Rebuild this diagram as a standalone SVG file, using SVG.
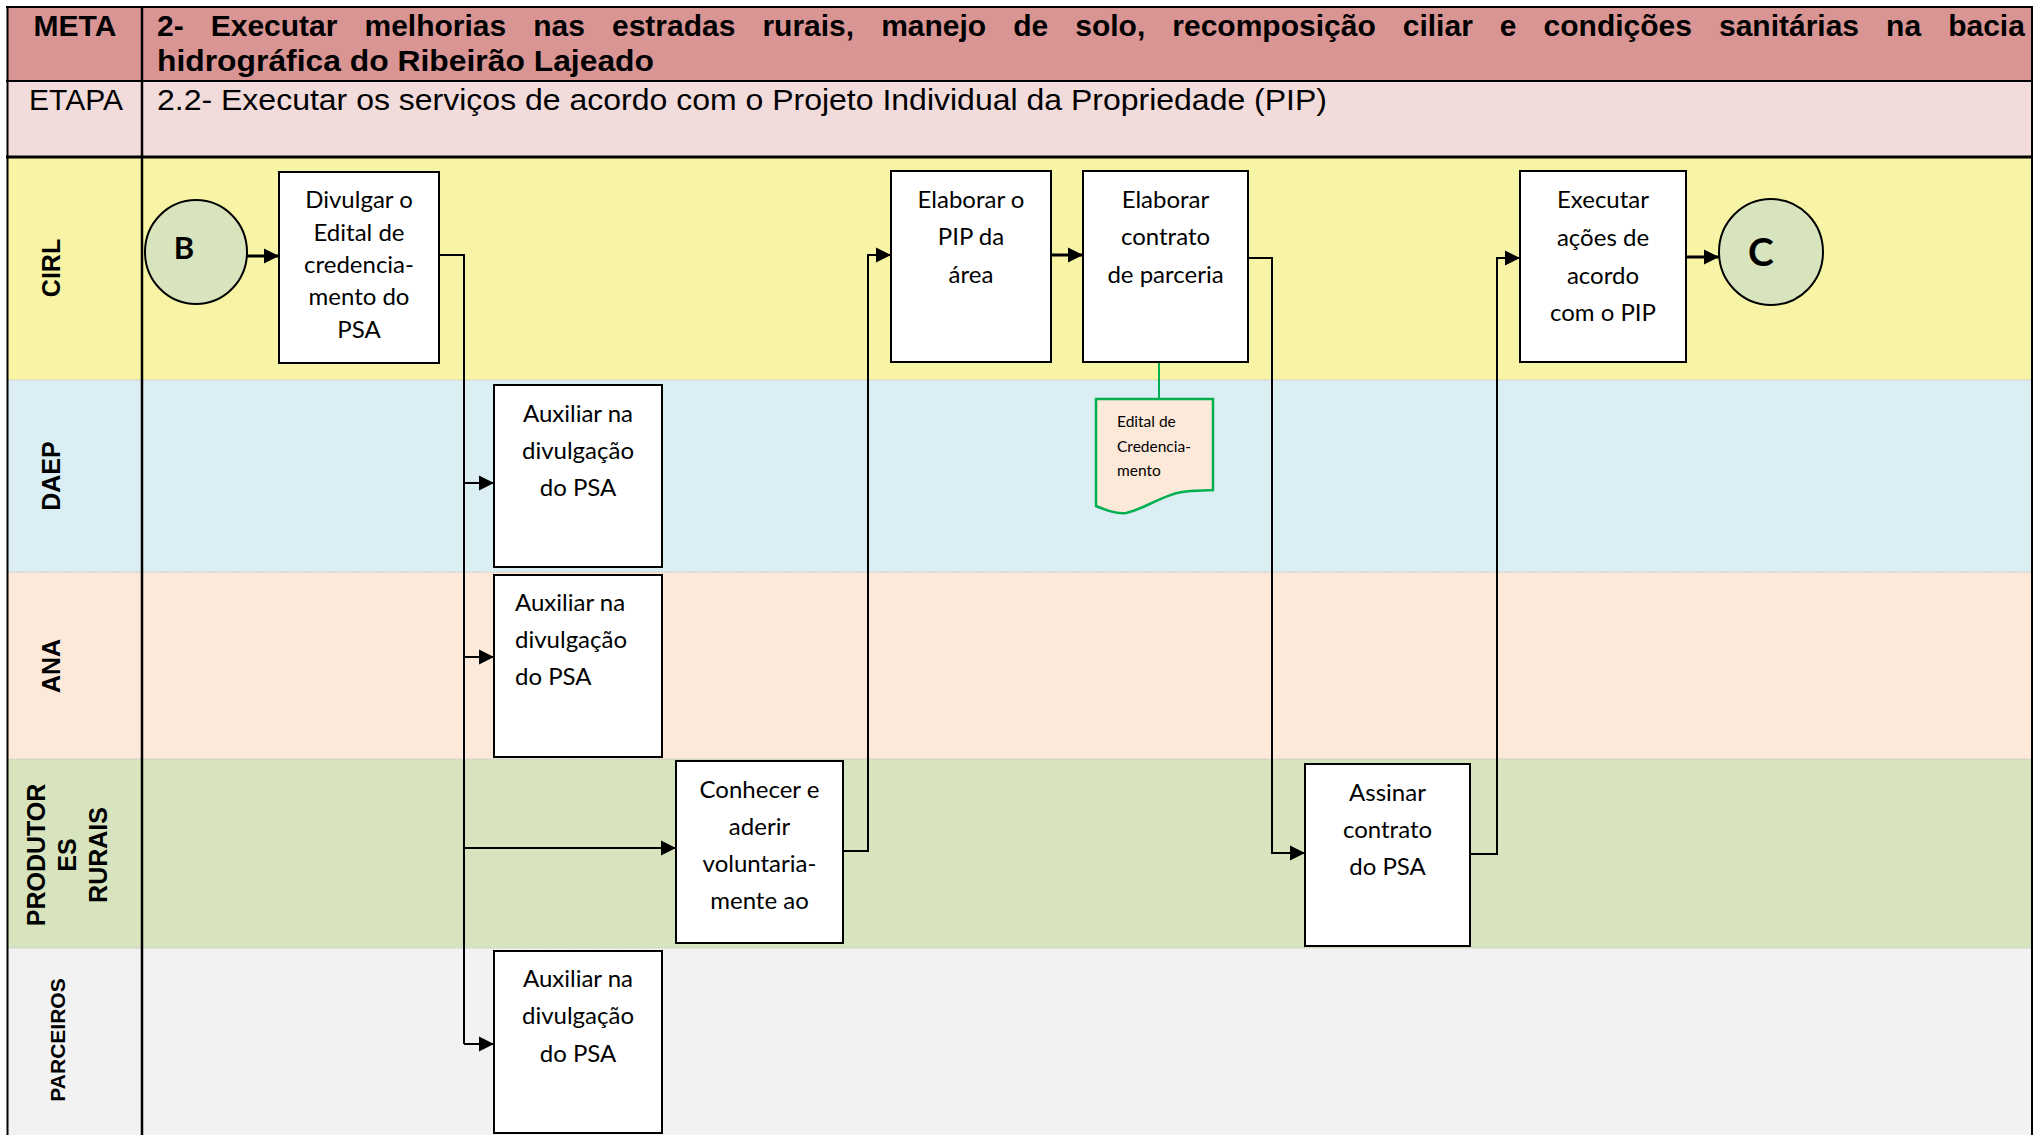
<svg xmlns="http://www.w3.org/2000/svg" width="2044" height="1135" viewBox="0 0 2044 1135">
<style>
.hdr{font-family:"Liberation Sans",Arial,sans-serif;font-size:30px;fill:#000}
.b{font-weight:bold}
.lane{font-family:"Liberation Sans",Arial,sans-serif;font-weight:bold;font-size:25px;fill:#000;text-anchor:middle}
.box{fill:#fff;stroke:#000;stroke-width:2}
.t{font-family:Lato,Carlito,Calibri,"Open Sans",sans-serif;font-size:24px;fill:#000}
.c{text-anchor:middle}
.circ{fill:#D7E4BD;stroke:#000;stroke-width:2}
.ct{font-family:Lato,Carlito,Calibri,sans-serif;font-weight:bold;fill:#000;text-anchor:middle}
.con{fill:none;stroke:#000;stroke-width:2}
.thick{stroke-width:3}
.sep{stroke:#C8C8C8;stroke-width:1;stroke-dasharray:2 1}
</style>
<defs>
<marker id="ah" markerUnits="userSpaceOnUse" markerWidth="16" markerHeight="16" refX="15" refY="8" orient="auto">
<path d="M0,0.5 L15,8 L0,15.5 Z" fill="#000"/>
</marker>
</defs>

<g id="background">
<rect x="7" y="7" width="2025" height="74" fill="#D99594"/>
<rect x="7" y="81" width="2025" height="76" fill="#F2DBDB"/>
<rect x="7" y="157" width="2025" height="223" fill="#F8F4A6"/>
<rect x="7" y="380" width="2025" height="192" fill="#DAEEF3"/>
<rect x="7" y="572" width="2025" height="187" fill="#FDE9D9"/>
<rect x="7" y="759" width="2025" height="189" fill="#D7E4BD"/>
<rect x="7" y="948" width="2025" height="187" fill="#F2F2F2"/>
<line class="sep" x1="7" y1="380" x2="2032" y2="380"/>
<line class="sep" x1="7" y1="572" x2="2032" y2="572"/>
<line class="sep" x1="7" y1="759" x2="2032" y2="759"/>
<line class="sep" x1="7" y1="948" x2="2032" y2="948"/>
<line x1="6" y1="7" x2="2033" y2="7" stroke="#000" stroke-width="2"/>
<line x1="6" y1="81" x2="2033" y2="81" stroke="#000" stroke-width="2"/>
<line x1="6" y1="157" x2="2033" y2="157" stroke="#000" stroke-width="3"/>
<line x1="7.5" y1="6" x2="7.5" y2="1135" stroke="#000" stroke-width="2"/>
<line x1="142" y1="6" x2="142" y2="1135" stroke="#000" stroke-width="2.5"/>
<line x1="2032" y1="6" x2="2032" y2="1135" stroke="#000" stroke-width="2"/>
</g>

<g id="header">
<text class="hdr b" x="75" y="36" text-anchor="middle">META</text>
<text class="hdr b" x="157" y="36" word-spacing="18.7">2- Executar melhorias nas estradas rurais, manejo de solo, recomposição ciliar e condições sanitárias na bacia</text>
<text class="hdr b" x="157" y="71" textLength="497" lengthAdjust="spacingAndGlyphs">hidrográfica do Ribeirão Lajeado</text>
<text class="hdr" x="76" y="110" text-anchor="middle">ETAPA</text>
<text class="hdr" x="157" y="110" textLength="1170" lengthAdjust="spacingAndGlyphs">2.2- Executar os serviços de acordo com o Projeto Individual da Propriedade (PIP)</text>
</g>

<g id="lane-labels">
<text class="lane" transform="translate(51,268) rotate(-90)" y="9">CIRL</text>
<text class="lane" transform="translate(51,476) rotate(-90)" y="9">DAEP</text>
<text class="lane" transform="translate(51,666) rotate(-90)" y="9">ANA</text>
<text class="lane" transform="translate(36,855) rotate(-90)" y="9">PRODUTOR</text>
<text class="lane" transform="translate(67,855) rotate(-90)" y="9">ES</text>
<text class="lane" transform="translate(98,855) rotate(-90)" y="9">RURAIS</text>
<text class="lane" style="font-size:21px" transform="translate(57,1040) rotate(-90)" y="7.5">PARCEIROS</text>
</g>

<g id="connectors">
<line class="con thick" x1="247" y1="256" x2="279" y2="256" marker-end="url(#ah)"/>
<path class="con" d="M439,255 H464 V1044"/>
<line class="con" x1="464" y1="483" x2="494" y2="483" marker-end="url(#ah)"/>
<line class="con" x1="464" y1="657" x2="494" y2="657" marker-end="url(#ah)"/>
<line class="con" x1="464" y1="848" x2="676" y2="848" marker-end="url(#ah)"/>
<line class="con" x1="464" y1="1044" x2="494" y2="1044" marker-end="url(#ah)"/>
<path class="con" d="M843,851 H868 V255 H891" marker-end="url(#ah)"/>
<line class="con thick" x1="1051" y1="255" x2="1083" y2="255" marker-end="url(#ah)"/>
<path class="con" d="M1248,258 H1272 V853 H1305" marker-end="url(#ah)"/>
<path class="con" d="M1470,854 H1497 V258 H1520" marker-end="url(#ah)"/>
<line class="con thick" x1="1686" y1="257" x2="1719" y2="257" marker-end="url(#ah)"/>
<line x1="1159" y1="362" x2="1159" y2="399" stroke="#00B050" stroke-width="2"/>
</g>

<g id="start-B">
<ellipse class="circ" cx="196" cy="252" rx="51" ry="52"/>
<text class="ct" x="184" y="259" font-size="31">B</text>
</g>

<g id="divulgar-edital">
<rect class="box" x="279" y="172" width="160" height="191"/>
<text class="t c" x="359"><tspan x="359" y="208">Divulgar o</tspan><tspan x="359" y="240.5">Edital de</tspan><tspan x="359" y="273">credencia-</tspan><tspan x="359" y="305">mento do</tspan><tspan x="359" y="337.5">PSA</tspan></text>
</g>

<g id="daep-auxiliar">
<rect class="box" x="494" y="385" width="168" height="182"/>
<text class="t c"><tspan x="578" y="421.5">Auxiliar na</tspan><tspan x="578" y="459">divulgação</tspan><tspan x="578" y="496">do PSA</tspan></text>
</g>

<g id="ana-auxiliar">
<rect class="box" x="494" y="575" width="168" height="182"/>
<text class="t"><tspan x="515" y="610.5">Auxiliar na</tspan><tspan x="515" y="648">divulgação</tspan><tspan x="515" y="685">do PSA</tspan></text>
</g>

<g id="parceiros-auxiliar">
<rect class="box" x="494" y="951" width="168" height="182"/>
<text class="t c"><tspan x="578" y="986.5">Auxiliar na</tspan><tspan x="578" y="1024">divulgação</tspan><tspan x="578" y="1061.5">do PSA</tspan></text>
</g>

<g id="conhecer-aderir">
<rect class="box" x="676" y="761" width="167" height="182"/>
<text class="t c"><tspan x="759.5" y="798">Conhecer e</tspan><tspan x="759.5" y="835">aderir</tspan><tspan x="759.5" y="871.5">voluntaria-</tspan><tspan x="759.5" y="909">mente ao</tspan></text>
</g>

<g id="elaborar-pip">
<rect class="box" x="891" y="171" width="160" height="191"/>
<text class="t c"><tspan x="971" y="208">Elaborar o</tspan><tspan x="971" y="245">PIP da</tspan><tspan x="971" y="282.5">área</tspan></text>
</g>

<g id="elaborar-contrato">
<rect class="box" x="1083" y="171" width="165" height="191"/>
<text class="t c"><tspan x="1165.5" y="208">Elaborar</tspan><tspan x="1165.5" y="245">contrato</tspan><tspan x="1165.5" y="282.5">de parceria</tspan></text>
</g>

<g id="doc-edital">
<path d="M1096,399 H1213 V490 L1191,491 C1165,492 1146,509 1126,513 C1115,514 1105,510 1096,506 Z" fill="#FDE9D9" stroke="#00B050" stroke-width="2.5"/>
<text class="t" style="font-size:15.5px"><tspan x="1117" y="427">Edital de</tspan><tspan x="1117" y="452">Credencia-</tspan><tspan x="1117" y="476">mento</tspan></text>
</g>

<g id="assinar-contrato">
<rect class="box" x="1305" y="764" width="165" height="182"/>
<text class="t c"><tspan x="1387.5" y="801">Assinar</tspan><tspan x="1387.5" y="838">contrato</tspan><tspan x="1387.5" y="875">do PSA</tspan></text>
</g>

<g id="executar-acoes">
<rect class="box" x="1520" y="171" width="166" height="191"/>
<text class="t c"><tspan x="1603" y="208">Executar</tspan><tspan x="1603" y="246">ações de</tspan><tspan x="1603" y="283.5">acordo</tspan><tspan x="1603" y="320.5">com o PIP</tspan></text>
</g>

<g id="end-C">
<ellipse class="circ" cx="1771" cy="252" rx="52" ry="53"/>
<text class="ct" x="1761" y="266" font-size="39">C</text>
</g>
</svg>
